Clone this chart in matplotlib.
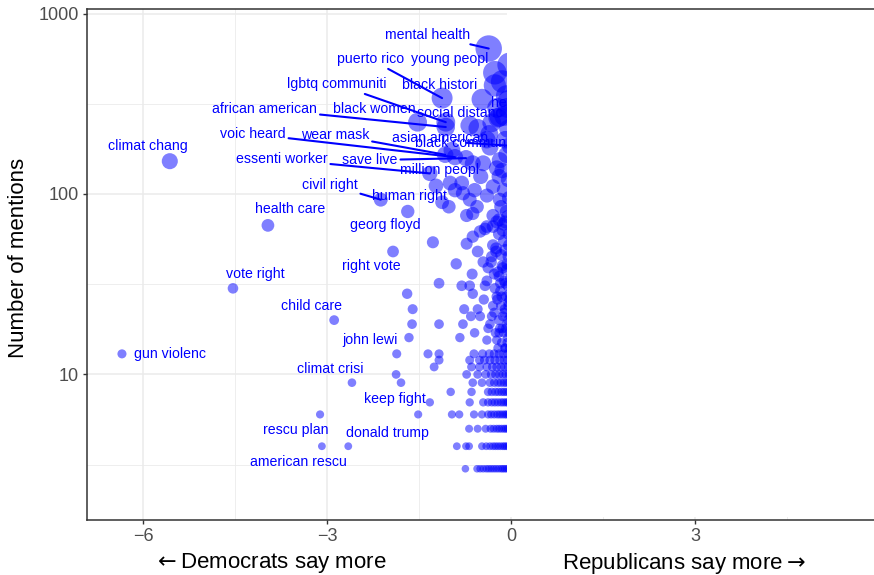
import numpy as np
import matplotlib.pyplot as plt
from matplotlib.patches import Rectangle

plt.rcParams['font.family'] = ['Liberation Sans', 'DejaVu Sans']

# labelled words: log ratio (x) and number of mentions (y)
words = ["mental health", "young peopl", "puerto rico", "black histori", "lgbtq communiti",
         "african american", "black women", "social distanc", "asian american", "black communiti",
         "wear mask", "voic heard", "essenti worker", "save live", "million peopl",
         "civil right", "human right", "georg floyd", "right vote", "health care",
         "climat chang", "vote right", "child care", "gun violenc", "john lewi",
         "climat crisi", "keep fight", "rescu plan", "donald trump", "american rescu",
         "health insur", "live matter"]
word_x = [-0.37, -0.27, -1.13, -0.48, -1.07, -1.07, -1.53, -0.68, -0.97, -0.02,
          -1.08, -0.92, -1.33, -0.74, -1.23, -2.13, -1.69, -1.28, -1.93, -3.97,
          -5.57, -4.54, -2.89, -6.35, -1.87, -2.60, -1.52, -3.12, -2.66, -3.09,
          -0.05, -0.03]
word_n = [640, 470, 340, 335, 250, 235, 250, 240, 175, 185,
          165, 160, 130, 158, 111, 93, 80, 54, 48, 67,
          152, 30, 20, 13, 13, 9, 6, 6, 4, 4,
          330, 520]

# unlabelled words with small counts, one row per count
row_counts = [3, 4, 5, 6, 7, 8, 9, 10, 11, 12, 13]
row_x = [
    [-0.75, -0.56, -0.51, -0.46, -0.41, -0.37, -0.33, -0.29, -0.25, -0.21, -0.17, -0.14, -0.11, -0.08, -0.05, -0.02],
    [-0.89, -0.74, -0.69, -0.48, -0.41, -0.35, -0.30, -0.26, -0.22, -0.18, -0.14, -0.11, -0.08, -0.05, -0.02],
    [-0.69, -0.55, -0.42, -0.34, -0.29, -0.24, -0.20, -0.16, -0.12, -0.09, -0.06, -0.03],
    [-0.97, -0.85, -0.61, -0.48, -0.38, -0.33, -0.28, -0.23, -0.19, -0.15, -0.11, -0.08, -0.05, -0.02],
    [-1.33, -0.68, -0.46, -0.38, -0.32, -0.27, -0.22, -0.17, -0.13, -0.09, -0.06, -0.03],
    [-0.99, -0.65, -0.38, -0.32, -0.26, -0.21, -0.16, -0.12, -0.08, -0.04],
    [-1.80, -0.63, -0.48, -0.35, -0.28, -0.22, -0.17, -0.12, -0.08, -0.04],
    [-1.88, -0.73, -0.55, -0.42, -0.33, -0.26, -0.20, -0.14, -0.09, -0.04],
    [-1.26, -0.65, -0.52, -0.40, -0.31, -0.24, -0.17, -0.11, -0.05],
    [-1.18, -0.68, -0.52, -0.44, -0.35, -0.27, -0.19, -0.12, -0.06],
    [-1.36, -1.18, -0.61, -0.47, -0.36, -0.28, -0.20, -0.13, -0.06],
]

# unlabelled words with larger counts
cloud_x = [-1.67, -1.62, -1.61, -1.70, -1.18, -0.84, -0.79, -0.77, -0.66, -0.55,
           -0.51, -0.38, -0.40, -0.24, -0.15, -0.30, -0.24, -0.32, -0.12, -0.06,
           -0.10, -0.05, -0.18, -0.08, -0.45, -0.60, -0.20, -0.03,
           -1.18, -0.90, -0.81, -0.68, -0.63, -0.43, -0.64, -0.40, -0.38, -0.46,
           -0.32, -0.73, -0.63, -0.51, -0.20, -0.25, -0.15, -0.10, -0.05, -0.12,
           -0.20, -0.08, -0.30, -0.04, -0.55, -0.28,
           -1.02, -0.63, -0.56, -0.30, -0.40, -0.92, -0.68, -0.40, -0.24, -0.14,
           -0.19, -0.73, -0.43, -0.08, -0.12, -0.05, -0.30, -0.50, -0.60, -0.20,
           -0.04, -0.10, -0.17, -1.13, -0.79,
           -1.00, -0.81, -0.63, -0.46, -0.24, -0.35, -0.19, -0.55, -0.32, -0.22,
           -0.27, -0.23, -0.20, -0.12, -0.10, -0.08, -0.15, -0.05, -0.06, -0.40,
           -0.15, -0.08, -0.36,
           -0.22, -0.16, -0.11, -0.07, -0.03, -0.26, -0.19, -0.13, -0.09, -0.04,
           -0.21, -0.14, -0.06, -0.02, -0.28, -0.17, -0.11, -0.05, -0.35, -0.23,
           -0.16, -0.09, -0.03, -0.27, -0.18, -0.12, -0.06, -0.02, -0.33, -0.22,
           -0.14, -0.07, -0.25, -0.17, -0.10, -0.04, -0.30, -0.20, -0.13, -0.06]
cloud_n = [16, 19, 23, 28, 19, 16, 19, 23, 21, 23,
           21, 18, 15.5, 15.5, 18, 24, 27, 21, 22, 16,
           14, 25, 29, 19, 26, 17, 17, 28,
           32, 41, 31, 31, 28, 31, 36, 33, 39, 42,
           45, 53, 58, 62, 35, 48, 40, 32, 45, 55,
           60, 38, 52, 60, 48, 36,
           85, 78, 85, 76, 66, 105, 93, 98, 70, 63,
           93, 76, 64, 80, 105, 120, 110, 125, 105, 125,
           95, 70, 85, 90, 101,
           115, 115, 148, 148, 139, 182, 154, 232, 248, 264,
           400, 300, 267, 270, 200, 165, 135, 230, 300, 200,
           420, 350, 215,
           14, 15, 14, 15, 14, 17, 18, 17, 18, 17,
           20, 21, 20, 21, 22, 24, 23, 24, 19, 26,
           27, 27, 26, 30, 32, 33, 31, 34, 42, 37,
           39, 41, 50, 46, 49, 52, 66, 72, 68, 75]

all_x = list(word_x) + list(cloud_x)
all_n = list(word_n) + list(cloud_n)
for c, xs in zip(row_counts, row_x):
    all_x += xs
    all_n += [c] * len(xs)
all_x = np.array(all_x)
all_n = np.array(all_n, dtype=float)

# label placement (pixel offsets from point) and whether a segment is drawn
label_off = [(-61, 14), (-45, 14), (-72, 39), (-42, 14), (-109, 38),
             (-181, 18), (-43, 13), (-10, 12), (-12, 12), (-44, 3),
             (-110, 20), (-202, 23), (-148, 14), (-96, -2), (4, 16),
             (-51, 15), (2, 15), (-48, 17), (-22, -14), (22, 16),
             (-22, 15), (22, 14), (-23, 14), (48, 0), (-27, 14),
             (-22, 14), (-23, 15), (-24, -16), (39, 13), (-23, -16),
             (19, -3), (30, -6)]
has_seg = {"mental health", "puerto rico", "lgbtq communiti", "african american",
           "black communiti", "wear mask", "voic heard", "essenti worker",
           "save live", "civil right"}

fig = plt.figure(figsize=(8.74, 5.75), dpi=100)
ax = fig.add_axes([87 / 874, 55 / 575, (880 - 87) / 874, 511 / 575])

radius = 3.1 + 0.40 * np.sqrt(all_n)  # pixels
ax.scatter(all_x, all_n, s=(2 * radius * 0.72) ** 2, color='blue', alpha=0.5,
           linewidths=0, zorder=3)

for w, x, n, (dx, dy) in zip(words, word_x, word_n, label_off):
    props = None
    if w in has_seg:
        props = dict(arrowstyle='-', color='blue', lw=1.5, shrinkA=0, shrinkB=0)
    ax.annotate(w, (x, n), xytext=(dx, dy), textcoords='offset pixels',
                ha='center', va='center', color='blue', fontsize=10.2,
                zorder=4, arrowprops=props)

ax.set_yscale('log')
ax.set_xlim(-6.92, 6.01)
ax.set_ylim(1.56, 1060)

ax.add_patch(Rectangle((-0.07, 1.62), 10, 2000, facecolor='white',
                       edgecolor='none', zorder=5))

ax.set_xticks([-6, -3, 0, 3])
ax.set_xticklabels(['\u22126', '\u22123', '0', '3'])
ax.set_xticks([-4.5, -1.5, 1.5, 4.5], minor=True)
ax.set_yticks([10, 100, 1000])
ax.set_yticklabels(['10', '100', '1000'])
ax.set_yticks([10 ** 0.5, 10 ** 1.5, 10 ** 2.5], minor=True)
ax.yaxis.set_minor_formatter(plt.NullFormatter())
ax.tick_params(which='major', length=3, width=1, color='#333333',
               labelsize=13, labelcolor='#4D4D4D', pad=3)
ax.tick_params(which='minor', length=0)
ax.grid(which='major', color='#EBEBEB', lw=1.1)
ax.grid(which='minor', color='#EBEBEB', lw=0.6)
ax.set_axisbelow(True)

for side in ['left', 'bottom', 'top']:
    ax.spines[side].set_color('#333333')
    ax.spines[side].set_linewidth(1.1)
    ax.spines[side].set_zorder(6)
ax.spines['right'].set_visible(False)

fig.text(270 / 874, 1 - 563 / 575, r'$\leftarrow$Democrats say more', ha='center', va='center', fontsize=16)
fig.text(684 / 874, 1 - 563 / 575, r'Republicans say more$\rightarrow$', ha='center', va='center', fontsize=16)
fig.text(19 / 874, 1 - 258 / 575, 'Number of mentions', ha='center', va='center',
         rotation=90, fontsize=16)

fig.savefig('out.png', dpi=100)
